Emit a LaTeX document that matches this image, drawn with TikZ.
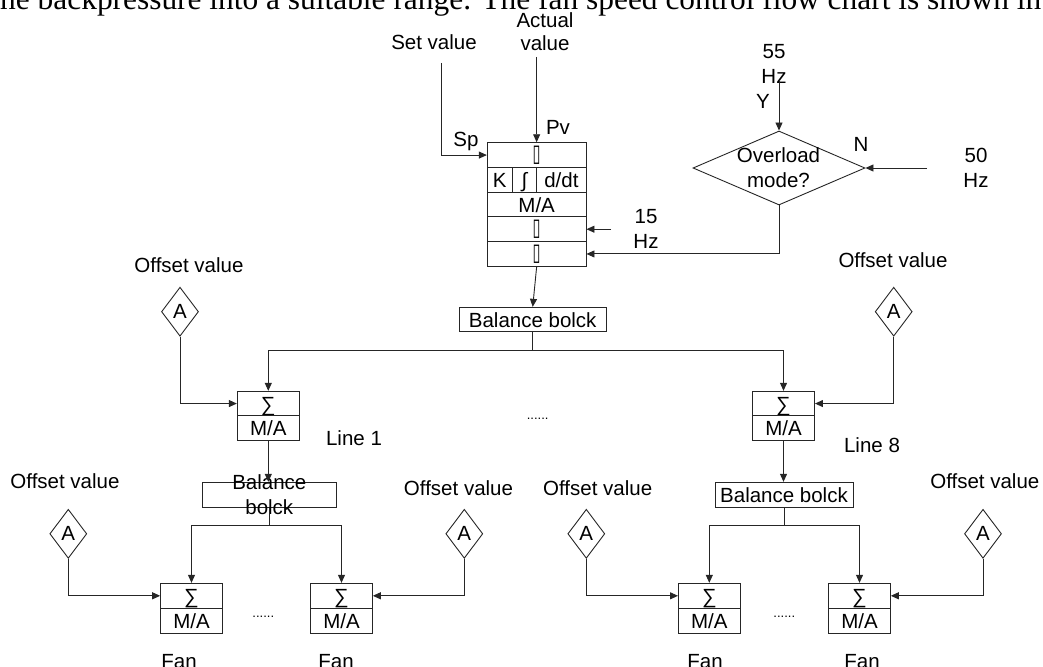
\documentclass[tikz,border=0pt]{standalone}
\usepackage{fontspec}
\setmainfont{Liberation Sans}
\newfontfamily\serifx{Liberation Serif}
\newfontfamily\djv{DejaVu Sans}
\usetikzlibrary{shapes.geometric,arrows.meta,calc}
\newcommand{\tofuglyph}{\scalebox{0.6}[1]{\djv\fontsize{24}{24}\selectfont ▯}}
\tikzset{
  ln/.style={line width=0.9pt, draw=black!85},
  arr/.style={ln, -{Triangle[length=8pt,width=7pt]}},
  box/.style={draw=black!85, line width=0.9pt, rectangle, inner sep=0pt,
    font=\fontsize{20.5}{25}\selectfont, text height=15pt, text depth=0pt},
  lbl/.style={inner sep=0pt, font=\fontsize{20.5}{25}\selectfont, text height=15pt, text depth=0pt},
  lbltwo/.style={inner sep=0pt, font=\fontsize{20.5}{25}\selectfont, align=center},
  dia/.style={draw=black!85, line width=0.9pt, diamond, inner sep=0pt,
    minimum width=37pt, minimum height=49pt, font=\fontsize{20.5}{25}\selectfont},
  dotsx/.style={inner sep=0pt, font=\fontsize{13}{13}\selectfont, anchor=base},
  tofubox/.style={draw=black!85, line width=0.9pt, rectangle, inner sep=0pt, minimum width=98.7pt, minimum height=24.72pt}
}
\begin{document}
\begin{tikzpicture}[x=1pt,y=-1pt]
\useasboundingbox (0,0) rectangle (1043,666);

% cut-off caption line at the top
\node[anchor=base west, inner sep=0pt, font=\serifx\fontsize{31.4}{31.4}\selectfont] (cap) at (-8.7,10)
  {the backpressure into a suitable range. The fan speed control flow chart is shown in};

% ---------- PID block ----------
\node[tofubox] (r1) at (536.65,155.06) {\tofuglyph};
\node[box, minimum width=25pt, minimum height=24.72pt] (rk) at (499.8,179.78) {K};
\node[box, minimum width=24.4pt, minimum height=24.72pt] (ri) at (524.5,179.78) {∫};
\node[box, minimum width=49.3pt, minimum height=24.72pt] (rd) at (561.35,179.78) {d/dt};
\node[box, minimum width=98.7pt, minimum height=24.72pt] (r3) at (536.65,204.5) {M/A};
\node[tofubox] (r4) at (536.65,229.22) {\tofuglyph};
\node[tofubox] (r5) at (536.65,253.94) {\tofuglyph};

\node[lbl] (tsv) at (434,41.7) {Set value};
\node[lbltwo, font=\fontsize{20.5}{23}\selectfont] (tav) at (545,31.8) {Actual\\value};
\node[lbl] (tsp) at (466,139) {Sp};
\node[lbl] (tpv) at (558,127) {Pv};
\node[lbltwo] (t15) at (646,229.2) {15\\Hz};

\coordinate (sv) at (441.7,63);
\coordinate (av) at (536.65,57);
\coordinate (f15) at (611,229.22);
\draw[arr] (sv) |- (r1.west);
\draw[arr] (av) -- (r1.north);
\draw[arr] (f15) -- (r4.east);

% ---------- overload decision ----------
\node[draw=black!85, line width=0.9pt, diamond, inner sep=0pt, minimum width=172pt, minimum height=74pt] (ovl) at (779,168) {};
\node[lbltwo] (tovl) at (778.5,168) {Overload\\mode?};
\node[lbltwo] (t55) at (774,63.8) {55\\Hz};
\node[lbl] (ty) at (763,100.8) {Y};
\node[lbl] (tn) at (861,143.7) {N};
\node[lbltwo] (t50) at (976,168) {50\\Hz};
\coordinate (f55) at (779,80);
\coordinate (f50) at (927,168);
\draw[arr] (f55) -- (ovl.north);
\draw[arr] (f50) -- (ovl.east);
\draw[arr] (ovl.south) |- (r5.east);

% ---------- top balance block ----------
\node[box, minimum width=147.3pt, minimum height=24.4pt] (bal) at (532.7,319.5) {Balance bolck};
\draw[arr] (r5.south) -- (bal.north);
\coordinate (j0) at (532.7,350);
\draw[ln] (bal.south) -- (j0);

% ---------- line sum blocks ----------
\node[box, minimum width=62pt, minimum height=24.5pt] (s1a) at (268.3,403.55) {∑};
\node[box, minimum width=62pt, minimum height=24.5pt] (s1b) at (268.3,428.05) {M/A};
\node[box, minimum width=62pt, minimum height=24.5pt] (s8a) at (783.5,403.55) {∑};
\node[box, minimum width=62pt, minimum height=24.5pt] (s8b) at (783.5,428.05) {M/A};
\draw[arr] (j0) -| (s1a.north);
\draw[arr] (j0) -| (s8a.north);

\node[lbl] (to1) at (189,265) {Offset value};
\node[dia] (dA1) at (180,311.7) {A};
\draw[arr] (dA1.south) |- (s1a.west);
\node[lbl] (to8) at (893,259.5) {Offset value};
\node[dia] (dA8) at (893.7,311.7) {A};
\draw[arr] (dA8.south) |- (s8a.east);

\node[lbl] (tl1) at (354,438) {Line 1};
\node[lbl] (tl8) at (872,445) {Line 8};
\node[dotsx] (dm) at (537.7,419) {......};

% ---------- line balance blocks ----------
\node[draw=black!85, line width=0.9pt, rectangle, inner sep=0pt, minimum width=133.3pt, minimum height=25pt] (b1) at (269.3,494.8) {};
\node[lbltwo] (tb1) at (269.3,494.8) {Balance\\bolck};
\node[box, minimum width=138pt, minimum height=25pt] (b8) at (784,494.8) {Balance bolck};
\draw[arr] (s1b.south) -- (s1b.south |- b1.north);
\draw[arr] (s8b.south) -- (s8b.south |- b8.north);
\coordinate (j1) at (269.3,525.7);
\coordinate (j8) at (784,525.7);
\draw[ln] (b1.south) -- (j1);
\draw[ln] (b8.south) -- (j8);

% ---------- fan sum blocks ----------
\node[box, minimum width=61.7pt, minimum height=25pt] (f1a) at (191.5,595.8) {∑};
\node[box, minimum width=61.7pt, minimum height=25pt] (f1aa) at (191.5,620.8) {M/A};
\node[box, minimum width=61.7pt, minimum height=25pt] (f1b) at (341.5,595.8) {∑};
\node[box, minimum width=61.7pt, minimum height=25pt] (f1bb) at (341.5,620.8) {M/A};
\node[box, minimum width=61.7pt, minimum height=25pt] (f8a) at (709.3,595.8) {∑};
\node[box, minimum width=61.7pt, minimum height=25pt] (f8aa) at (709.3,620.8) {M/A};
\node[box, minimum width=61.7pt, minimum height=25pt] (f8b) at (859.5,595.8) {∑};
\node[box, minimum width=61.7pt, minimum height=25pt] (f8bb) at (859.5,620.8) {M/A};
\draw[arr] (j1) -| (f1a.north);
\draw[arr] (j1) -| (f1b.north);
\draw[arr] (j8) -| (f8a.north);
\draw[arr] (j8) -| (f8b.north);

\node[lbl] (tob1) at (65,481) {Offset value};
\node[dia] (dB1) at (68.3,533.8) {A};
\draw[arr] (dB1.south) |- (f1a.west);
\node[lbl] (tob2) at (458.5,488) {Offset value};
\node[dia] (dB2) at (464.3,533.8) {A};
\draw[arr] (dB2.south) |- (f1b.east);
\node[lbl] (tob3) at (597.7,488.3) {Offset value};
\node[dia] (dB3) at (586.3,533.8) {A};
\draw[arr] (dB3.south) |- (f8a.west);
\node[lbl] (tob4) at (984.8,480.7) {Offset value};
\node[dia] (dB4) at (983,533.8) {A};
\draw[arr] (dB4.south) |- (f8b.east);

\node[dotsx] (d1) at (263.3,617) {......};
\node[dotsx] (d8) at (784.3,617) {......};

\node[lbl, anchor=base] (fan1) at (179,668) {Fan};
\node[lbl, anchor=base] (fan2) at (336,668) {Fan};
\node[lbl, anchor=base] (fan3) at (705,668) {Fan};
\node[lbl, anchor=base] (fan4) at (862,668) {Fan};
\end{tikzpicture}
\end{document}
